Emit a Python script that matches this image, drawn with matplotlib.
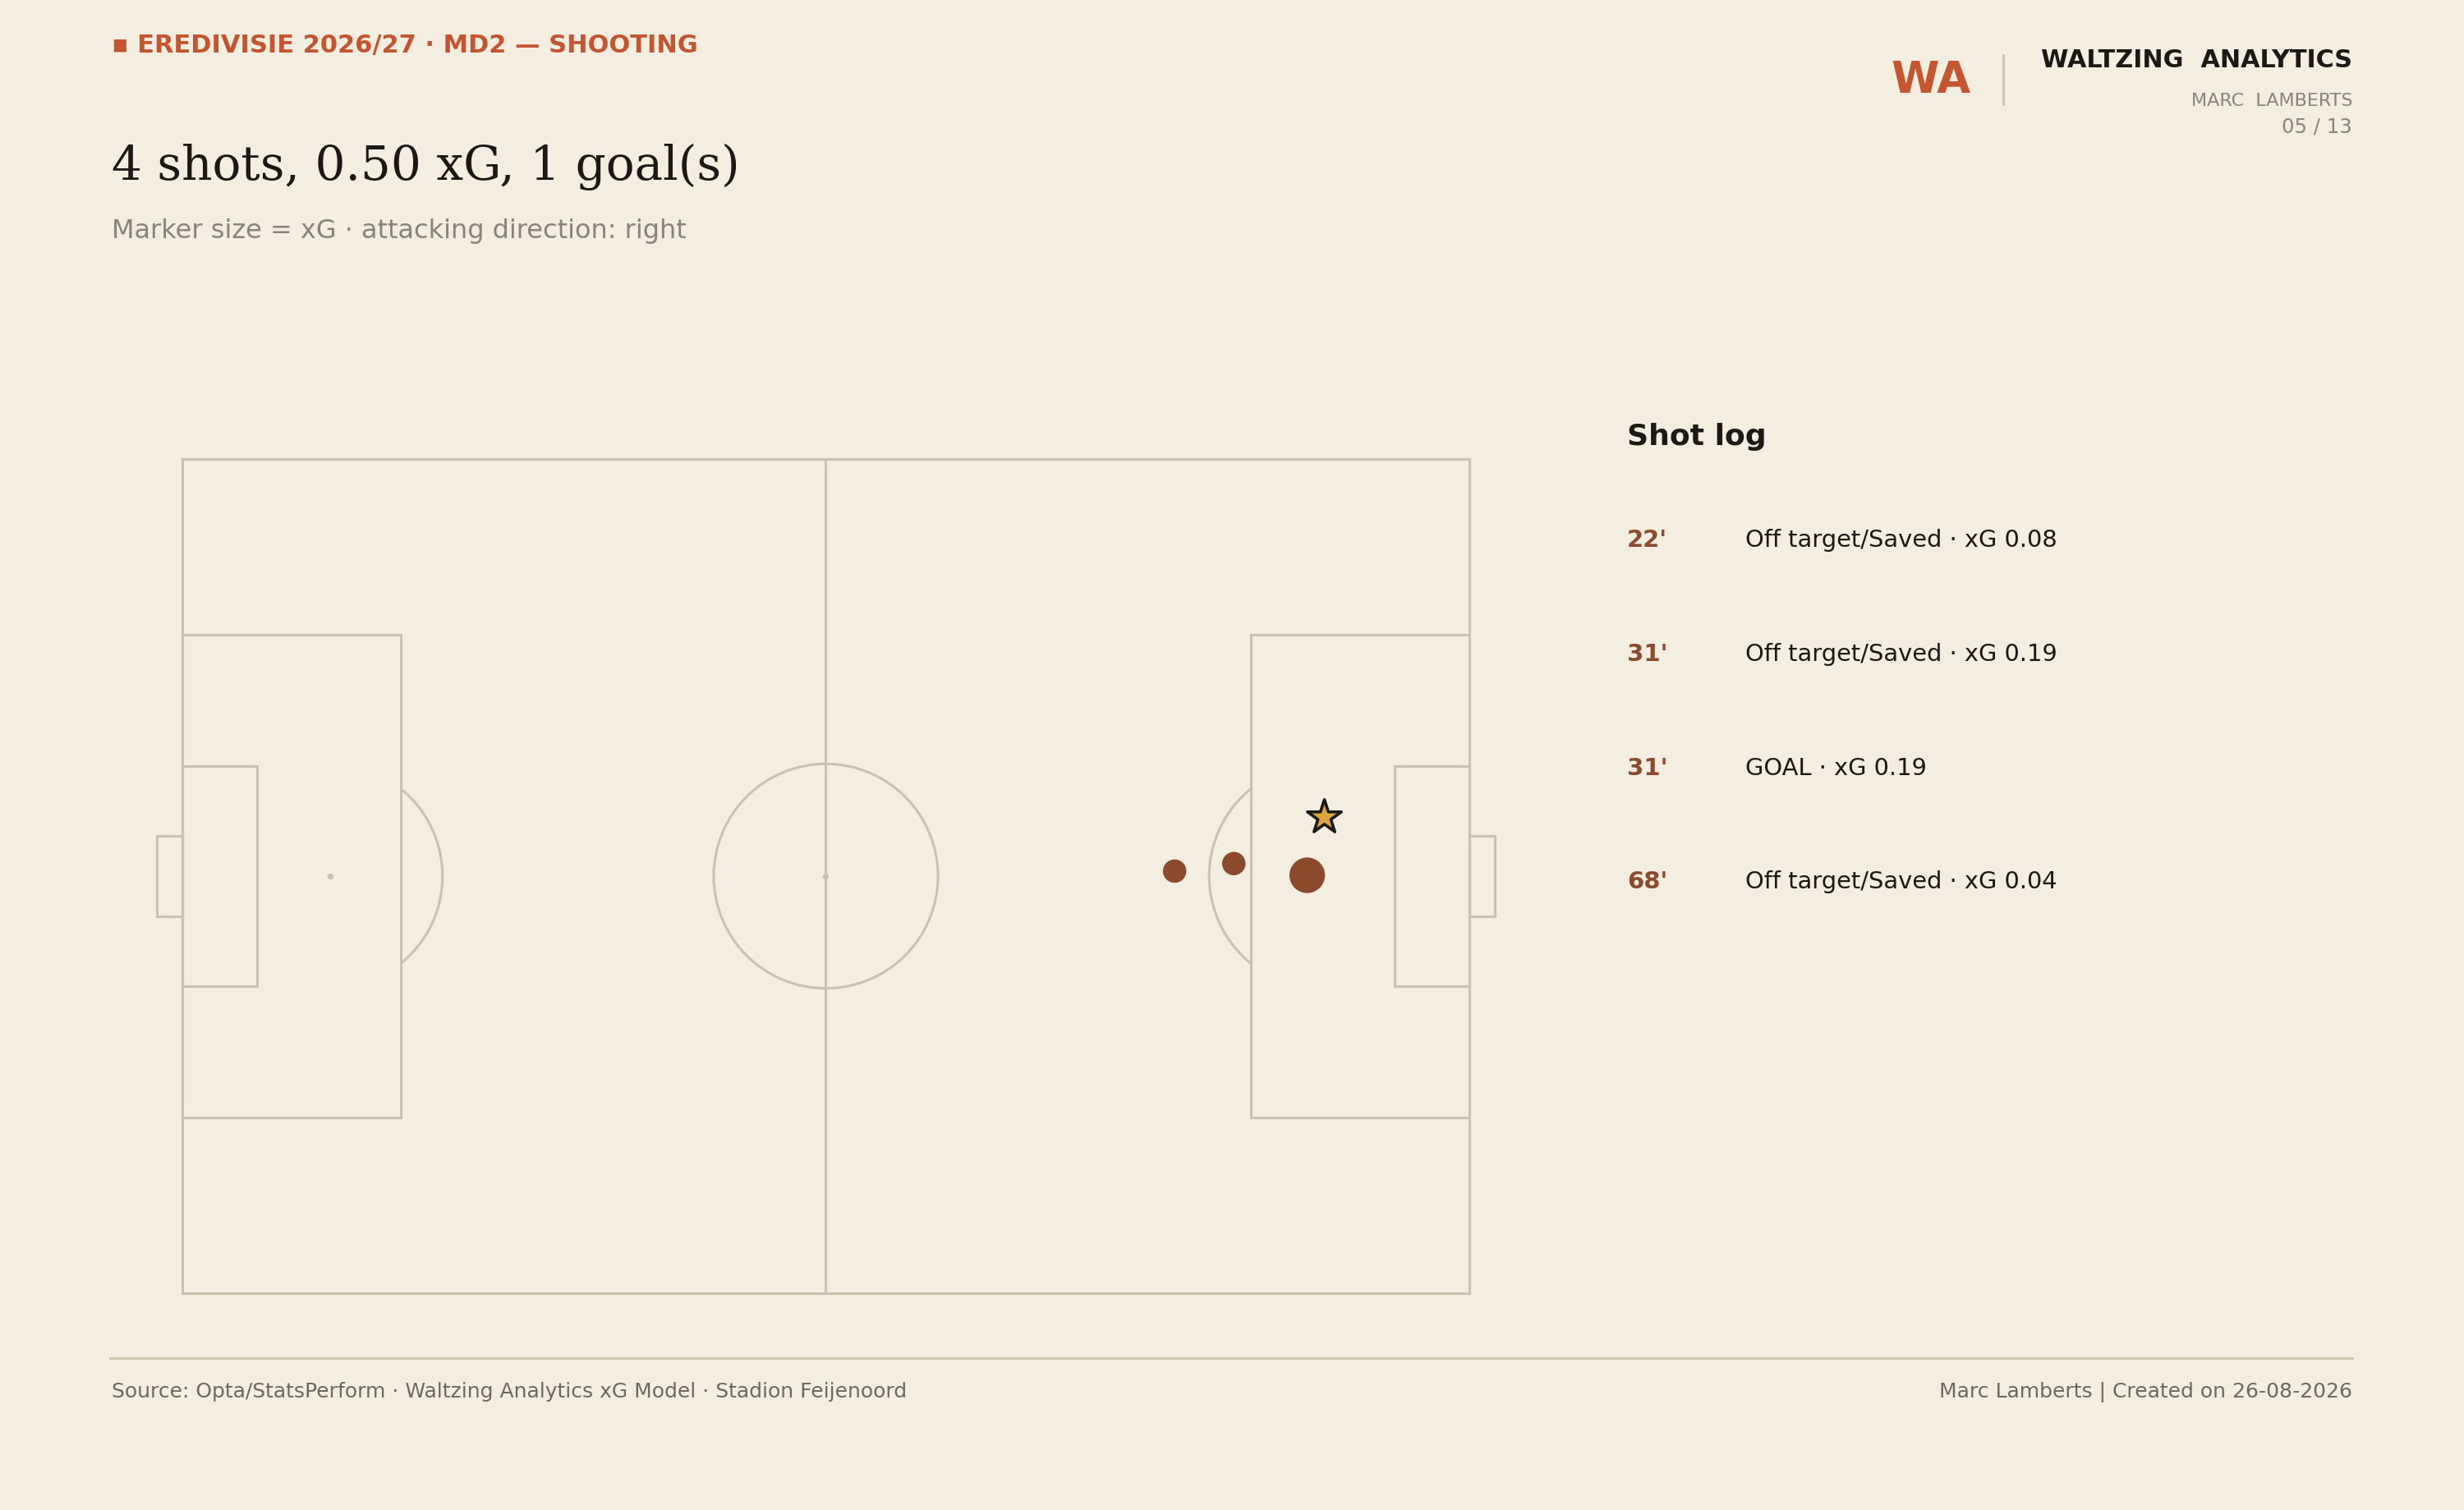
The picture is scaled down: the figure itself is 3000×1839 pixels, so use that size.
import numpy as np
import matplotlib
matplotlib.use("Agg")
import matplotlib.pyplot as plt
from matplotlib.patches import Rectangle, Ellipse, Arc

# ---------------- data ----------------
minutes = ["22'", "31'", "31'", "68'"]
outcomes = ["Off target/Saved", "Off target/Saved", "GOAL", "Off target/Saved"]
xg = [0.08, 0.19, 0.19, 0.04]
shot_x = [81.7, 87.4, 88.7, 77.1]   # opta units, attacking right
shot_y = [51.5, 50.1, 57.1, 50.6]
is_goal = [False, False, True, False]

header = "▪ EREDIVISIE 2026/27 · MD2 — SHOOTING"
title = "4 shots, 0.50 xG, 1 goal(s)"
subtitle = "Marker size = xG · attacking direction: right"
source = "Source: Opta/StatsPerform · Waltzing Analytics xG Model · Stadion Feijenoord"
credit = "Marc Lamberts | Created on 26-08-2026"

# ---------------- style ----------------
BG = "#F4EEE1"
LINE = "#C9C2AD"
ORANGE = "#C4552F"
BROWN = "#8B4A2B"
GOLD = "#DBA53B"
DARK = "#1C1915"
GREY = "#878479"
FOOT = "#6D695F"

W, H = 3000, 1839
DPI = 200
fig = plt.figure(figsize=(W / DPI, H / DPI), dpi=DPI, facecolor=BG)

def fx(px):
    return px / W

def fy(py):
    return 1 - py / H

# ---------------- pitch axes ----------------
P_L, P_R, P_T, P_B = 222, 1789, 559, 1575
ux = (P_R - P_L) / 100.0
uy = (P_B - P_T) / 100.0
pad = 4
ax = fig.add_axes([fx(P_L - pad * ux), fy(P_B + pad * uy),
                   (100 + 2 * pad) * ux / W, (100 + 2 * pad) * uy / H])
ax.set_xlim(-pad, 100 + pad)
ax.set_ylim(-pad, 100 + pad)
ax.axis("off")
ax.set_facecolor(BG)

lw = 1.1
kw = dict(fill=False, edgecolor=LINE, lw=lw, zorder=1)
ax.add_patch(Rectangle((0, 0), 100, 100, **kw))
ax.plot([50, 50], [0, 100], color=LINE, lw=lw, zorder=1, solid_capstyle="butt")
# metres -> opta
rx = 9.15 / 105 * 100
ry = 9.15 / 68 * 100
ax.add_patch(Ellipse((50, 50), 2 * rx, 2 * ry, **kw))
ax.scatter([50, 11.5, 88.5], [50, 50, 50], s=7, color=LINE, zorder=1, lw=0)

phi = np.arccos((17 - 11.5) / rx)
ang = np.degrees(np.arctan2(ry * np.sin(phi), rx * np.cos(phi)))

ax.add_patch(Rectangle((0, 21.1), 17, 57.8, **kw))
ax.add_patch(Rectangle((0, 36.8), 5.8, 26.4, **kw))
ax.add_patch(Rectangle((-2, 45.2), 2, 9.6, **kw))
ax.add_patch(Arc((11.5, 50), 2 * rx, 2 * ry, theta1=-ang, theta2=ang,
                 color=LINE, lw=lw, zorder=1))
ax.add_patch(Rectangle((83, 21.1), 17, 57.8, **kw))
ax.add_patch(Rectangle((94.2, 36.8), 5.8, 26.4, **kw))
ax.add_patch(Rectangle((100, 45.2), 2, 9.6, **kw))
ax.add_patch(Arc((88.5, 50), 2 * rx, 2 * ry, theta1=180 - ang, theta2=180 + ang,
                 color=LINE, lw=lw, zorder=1))

sizes = np.clip(np.array(xg) * 1280, 105, None)
for x, y, s, g in zip(shot_x, shot_y, sizes, is_goal):
    if g:
        ax.scatter([x], [y], s=s, marker="*", color=GOLD, edgecolor="#1a1a1a",
                   linewidth=1.3, zorder=4)
    else:
        ax.scatter([x], [y], s=s, marker="o", color=BROWN, edgecolor="none",
                   zorder=3)

# ---------------- header texts ----------------
fig.text(fx(136), fy(64), header, color=ORANGE, fontsize=11, fontweight="bold",
         family="DejaVu Sans", va="baseline", ha="left")
fig.text(fx(136), fy(219), title, color=DARK, fontsize=20.9, family="DejaVu Serif",
         va="baseline", ha="left")
fig.text(fx(136), fy(290), subtitle, color=GREY, fontsize=11.5, family="DejaVu Sans",
         va="baseline", ha="left")

# logo block
fig.text(fx(2302), fy(113), "WA", color=ORANGE, fontsize=19.1, fontweight="bold",
         va="baseline", ha="left")
fig.add_artist(plt.Line2D([fx(2439), fx(2439)], [fy(67), fy(127)], color=LINE, lw=1.0))
fig.text(fx(2864), fy(82), "WALTZING  ANALYTICS", color=DARK, fontsize=10.9,
         fontweight="bold", va="baseline", ha="right")
fig.text(fx(2864), fy(129), "MARC  LAMBERTS", color=GREY, fontsize=8,
         va="baseline", ha="right")
fig.text(fx(2864), fy(162), "05 / 13", color=GREY, fontsize=8.8,
         va="baseline", ha="right")

# ---------------- shot log ----------------
fig.text(fx(1981), fy(542), "Shot log", color=DARK, fontsize=13, fontweight="bold",
         va="baseline", ha="left")
row_base = [666, 805, 944, 1082]
for yb, m, o, v in zip(row_base, minutes, outcomes, xg):
    fig.text(fx(1981), fy(yb), m, color=BROWN, fontsize=10.5, fontweight="bold",
             va="baseline", ha="left")
    fig.text(fx(2125), fy(yb), f"{o} · xG {v:.2f}", color=DARK, fontsize=10.4,
             va="baseline", ha="left")

# ---------------- footer ----------------
fig.add_artist(plt.Line2D([fx(134), fx(2864)], [fy(1654), fy(1654)], color=LINE, lw=1.0))
fig.text(fx(136), fy(1702), source, color=FOOT, fontsize=9, va="baseline", ha="left")
fig.text(fx(2864), fy(1702), credit, color=FOOT, fontsize=9, va="baseline", ha="right")

fig.savefig("out.png", dpi=DPI, facecolor=BG)
